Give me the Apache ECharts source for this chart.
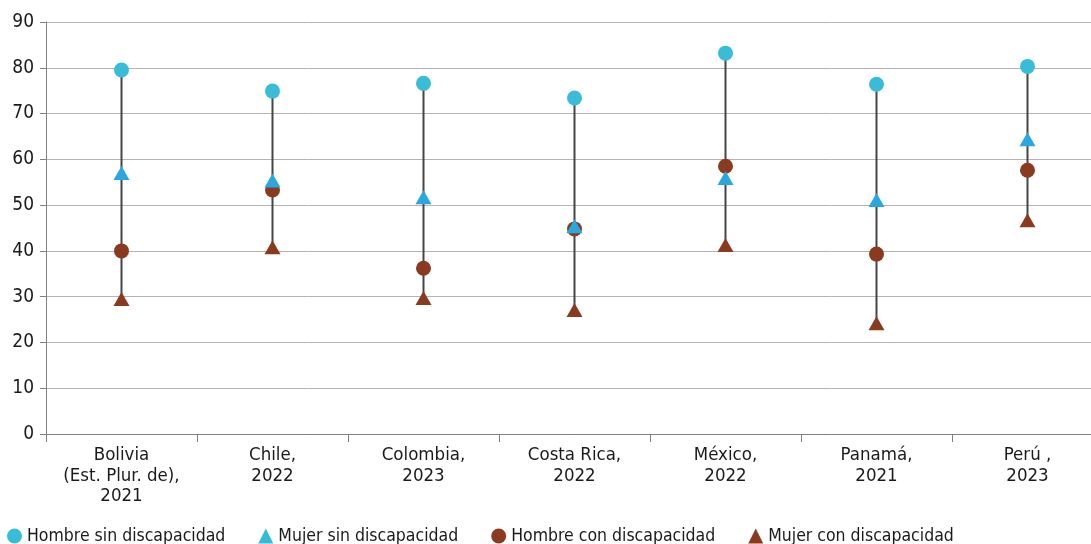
<!DOCTYPE html>
<html>
<head>
<meta charset="utf-8">
<script src="https://cdn.jsdelivr.net/npm/echarts@6/dist/echarts.min.js"></script>
<style>
html,body{margin:0;padding:0;background:#fff;}
#c{width:1091px;height:544px;}
</style>
</head>
<body>
<div id="c"></div>
<script>
var categories = ['Bolivia\n(Est. Plur. de),\n2021', 'Chile,\n2022', 'Colombia,\n2023', 'Costa Rica,\n2022', 'México,\n2022', 'Panamá,\n2021', 'Perú ,\n2023'];
var hombreSin = [79.5, 74.9, 76.6, 73.4, 83.2, 76.4, 80.3];
var mujerSin = [57.0, 55.4, 51.7, 45.4, 55.9, 51.1, 64.4];
var hombreCon = [40.0, 53.3, 36.2, 44.8, 58.5, 39.3, 57.6];
var mujerCon = [29.5, 40.8, 29.7, 27.1, 41.3, 24.2, 46.7];
var yTicks = [0, 10, 20, 30, 40, 50, 60, 70, 80, 90];

var FONT = '"Liberation Sans Narrow", "DejaVu Sans Condensed", sans-serif';
var rangeData = categories.map(function (c, i) {
  var vals = [hombreSin[i], mujerSin[i], hombreCon[i], mujerCon[i]];
  return [i, Math.min.apply(null, vals), Math.max.apply(null, vals)];
});

var chart = echarts.init(document.getElementById('c'), null, {renderer: 'canvas'});
chart.setOption({
  animation: false,
  textStyle: {fontFamily: FONT},
  grid: {left: 46, top: 22, height: 412, width: 1057, containLabel: false, outerBoundsMode: 'none'},
  legend: {
    left: 2, top: 522,
    itemWidth: 15, itemHeight: 15, itemGap: 33,
    textStyle: {fontFamily: FONT, fontSize: 17.5, color: '#1a1a1a'},
    data: [
      {name: 'Hombre sin discapacidad', icon: 'circle'},
      {name: 'Mujer sin discapacidad', icon: 'triangle', itemStyle: {color: '#36bad8'}},
      {name: 'Hombre con discapacidad', icon: 'circle'},
      {name: 'Mujer con discapacidad', icon: 'triangle'}
    ]
  },
  xAxis: {
    type: 'category',
    data: categories,
    boundaryGap: true,
    axisLine: {lineStyle: {color: '#808080', width: 1}},
    axisTick: {show: true, length: 8, lineStyle: {color: '#808080'}},
    axisLabel: {fontFamily: FONT, fontSize: 18.5, color: '#1a1a1a', lineHeight: 20.5, margin: 11, interval: 0}
  },
  yAxis: {
    type: 'value',
    min: yTicks[0], max: yTicks[yTicks.length - 1], interval: 10,
    axisLine: {show: true, lineStyle: {color: '#808080', width: 1}},
    axisTick: {show: true, length: 6, lineStyle: {color: '#808080'}},
    axisLabel: {fontFamily: FONT, fontSize: 19, color: '#1a1a1a', margin: 12},
    splitLine: {lineStyle: {color: '#b4b4b4', width: 1}}
  },
  series: [
    {
      type: 'custom',
      name: 'range',
      silent: true,
      z: 1,
      data: rangeData,
      encode: {x: 0, y: [1, 2]},
      renderItem: function (params, api) {
        var lo = api.coord([api.value(0), api.value(1)]);
        var hi = api.coord([api.value(0), api.value(2)]);
        return {type: 'line', shape: {x1: lo[0], y1: lo[1], x2: hi[0], y2: hi[1]}, style: {stroke: '#454545', lineWidth: 2}};
      }
    },
    {name: 'Hombre sin discapacidad', type: 'scatter', symbol: 'circle', symbolSize: 15, z: 3, itemStyle: {color: '#38bcd8', opacity: 1}, data: hombreSin},
    {name: 'Mujer sin discapacidad', type: 'scatter', symbol: 'triangle', symbolSize: [16, 14], z: 4, itemStyle: {color: '#29a8e0', opacity: 1}, data: mujerSin},
    {name: 'Hombre con discapacidad', type: 'scatter', symbol: 'circle', symbolSize: 15, z: 3, itemStyle: {color: '#8a3a1e', opacity: 1}, data: hombreCon},
    {name: 'Mujer con discapacidad', type: 'scatter', symbol: 'triangle', symbolSize: [16, 14], z: 3, itemStyle: {color: '#8a3a1e', opacity: 1}, data: mujerCon}
  ]
});
</script>
</body>
</html>
